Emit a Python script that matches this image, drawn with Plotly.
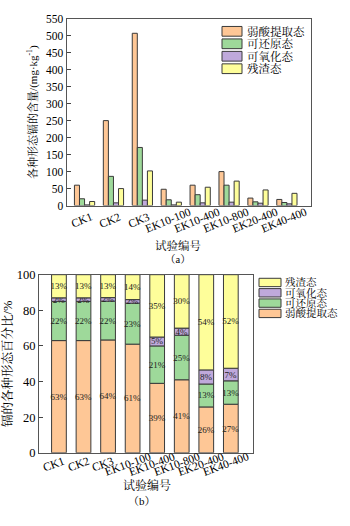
import plotly.graph_objects as go

categories = ["CK1", "CK2", "CK3", "EK10-100", "EK10-400", "EK10-800", "EK20-400", "EK40-400"]
names = ["弱酸提取态", "可还原态", "可氧化态", "残渣态"]

# (a) content, mg/kg
weak_acid = [60, 250, 507, 48, 60, 100, 22, 18]
reducible = [20, 86, 171, 17, 32, 60, 11, 9]
oxidizable = [2, 8, 16, 2, 8, 10, 7, 5]
residual = [12, 50, 102, 10, 54, 72, 46, 36]

# (b) percentages
pct_weak = [63, 63, 64, 61, 39, 41, 26, 27]
pct_red = [22, 22, 22, 23, 21, 25, 13, 13]
pct_oxi = [2, 2, 2, 2, 5, 4, 8, 7]
pct_res = [13, 13, 13, 14, 35, 30, 54, 52]

colors = ["#FEC796", "#9ED99A", "#BFA9DB", "#FEFE9A"]
line_c = "#3a3a3a"
serif = "Liberation Serif, Noto Serif CJK SC, Noto Sans CJK SC, serif"
W, H = 350, 526

def py(px):
    return 1 - px / H

def pxx(px):
    return px / W

fig = go.Figure()

a_series = [weak_acid, reducible, oxidizable, residual]
for n, v, c in zip(names, a_series, colors):
    fig.add_trace(go.Bar(x=categories, y=v, name=n, marker=dict(color=c, line=dict(color=line_c, width=1)),
                         xaxis="x", yaxis="y", showlegend=False))

b_series = [pct_weak, pct_red, pct_oxi, pct_res]
tot = [sum(s[i] for s in b_series) for i in range(len(categories))]
bases = [0.0] * len(categories)
for n, v, c in zip(names, b_series, colors):
    vv = [v[i] * 100.0 / tot[i] for i in range(len(categories))]
    fig.add_trace(go.Bar(x=categories, y=vv, base=list(bases), name=n, offsetgroup="b", width=0.6,
                         marker=dict(color=c, line=dict(color=line_c, width=1)),
                         text=[f"{p}%" for p in v], textposition="inside", insidetextanchor="middle",
                         constraintext="none", textangle=0,
                         textfont=dict(family=serif, size=9, color="#222"),
                         xaxis="x2", yaxis="y2", showlegend=False))
    bases = [bases[i] + vv[i] for i in range(len(categories))]

axis_common = dict(showline=True, linecolor="#555", linewidth=1, mirror=True,
                   showgrid=False, zeroline=False)

annotations = []
shapes = []

# rotated category labels
for c in categories:
    annotations.append(dict(text=c, x=c, xref="x", y=py(219), yref="paper", xshift=-3,
                            textangle=-22, showarrow=False, xanchor="center", yanchor="middle",
                            font=dict(family=serif, size=11.5, color="black")))
    annotations.append(dict(text=c, x=c, xref="x2", y=py(470), yref="paper", xshift=-5,
                            textangle=-20, showarrow=False, xanchor="center", yanchor="middle",
                            font=dict(family=serif, size=11.5, color="black")))

# axis titles below
annotations += [
    dict(text="试验编号", x=pxx(178), y=py(245), xref="paper", yref="paper", showarrow=False,
         font=dict(family=serif, size=11.5, color="black")),
    dict(text="（a）", x=pxx(178), y=py(259), xref="paper", yref="paper", showarrow=False,
         font=dict(family=serif, size=10.5, color="black")),
    dict(text="试验编号", x=pxx(147), y=py(501), xref="paper", yref="paper", showarrow=False,
         font=dict(family=serif, size=12, color="black")),
    dict(text="（b）", x=pxx(142), y=py(516), xref="paper", yref="paper", showarrow=False,
         font=dict(family=serif, size=11, color="black")),
]

# legend (a): inside top-right
for i, (n, c) in enumerate(zip(names, colors)):
    yc = 25 + i * 12.8
    shapes.append(dict(type="rect", xref="paper", yref="paper", x0=pxx(222), x1=pxx(242),
                       y0=py(yc + 5), y1=py(yc - 5), fillcolor=c, line=dict(color=line_c, width=1)))
    annotations.append(dict(text=n, x=pxx(245), y=py(yc), xref="paper", yref="paper", showarrow=False,
                            xanchor="left", yanchor="middle", font=dict(family=serif, size=11.5, color="black")))

# legend (b): outside right, reversed order
for i, (n, c) in enumerate(zip(names[::-1], colors[::-1])):
    yc = 283 + i * 10.6
    shapes.append(dict(type="rect", xref="paper", yref="paper", x0=pxx(259), x1=pxx(281),
                       y0=py(yc + 4.3), y1=py(yc - 4.3), fillcolor=c, line=dict(color=line_c, width=1)))
    annotations.append(dict(text=n, x=pxx(283), y=py(yc), xref="paper", yref="paper", showarrow=False,
                            xanchor="left", yanchor="middle", font=dict(family=serif, size=10.5, color="black")))

fig.update_layout(
    width=W, height=H, margin=dict(l=0, r=0, t=0, b=0),
    paper_bgcolor="white", plot_bgcolor="white",
    barmode="group", bargap=0.3, bargroupgap=0.0,
    showlegend=False,
    xaxis=dict(domain=[pxx(66.5), pxx(311)], anchor="y", showticklabels=False, ticks="", **axis_common),
    yaxis=dict(domain=[py(204), py(12)], anchor="x", range=[0, 550], dtick=50, ticks="inside", ticklen=4,
               tickfont=dict(family=serif, size=11.5, color="black"),
               title=dict(text="各种形态镉的含量/(mg·kg<sup>-1</sup>)", font=dict(family=serif, size=11, color="black"), standoff=6),
               **axis_common),
    xaxis2=dict(domain=[pxx(39), pxx(253)], anchor="y2", showticklabels=False, ticks="", **axis_common),
    yaxis2=dict(domain=[py(458), py(275)], anchor="x2", range=[0, 100], dtick=20, ticks="inside", ticklen=4,
                tickfont=dict(family=serif, size=12.5, color="black"),
                title=dict(text="镉的各种形态百分比/%", font=dict(family=serif, size=12.5, color="black"), standoff=4),
                **axis_common),
    annotations=annotations,
    shapes=shapes,
)

fig.write_html("out.html")
